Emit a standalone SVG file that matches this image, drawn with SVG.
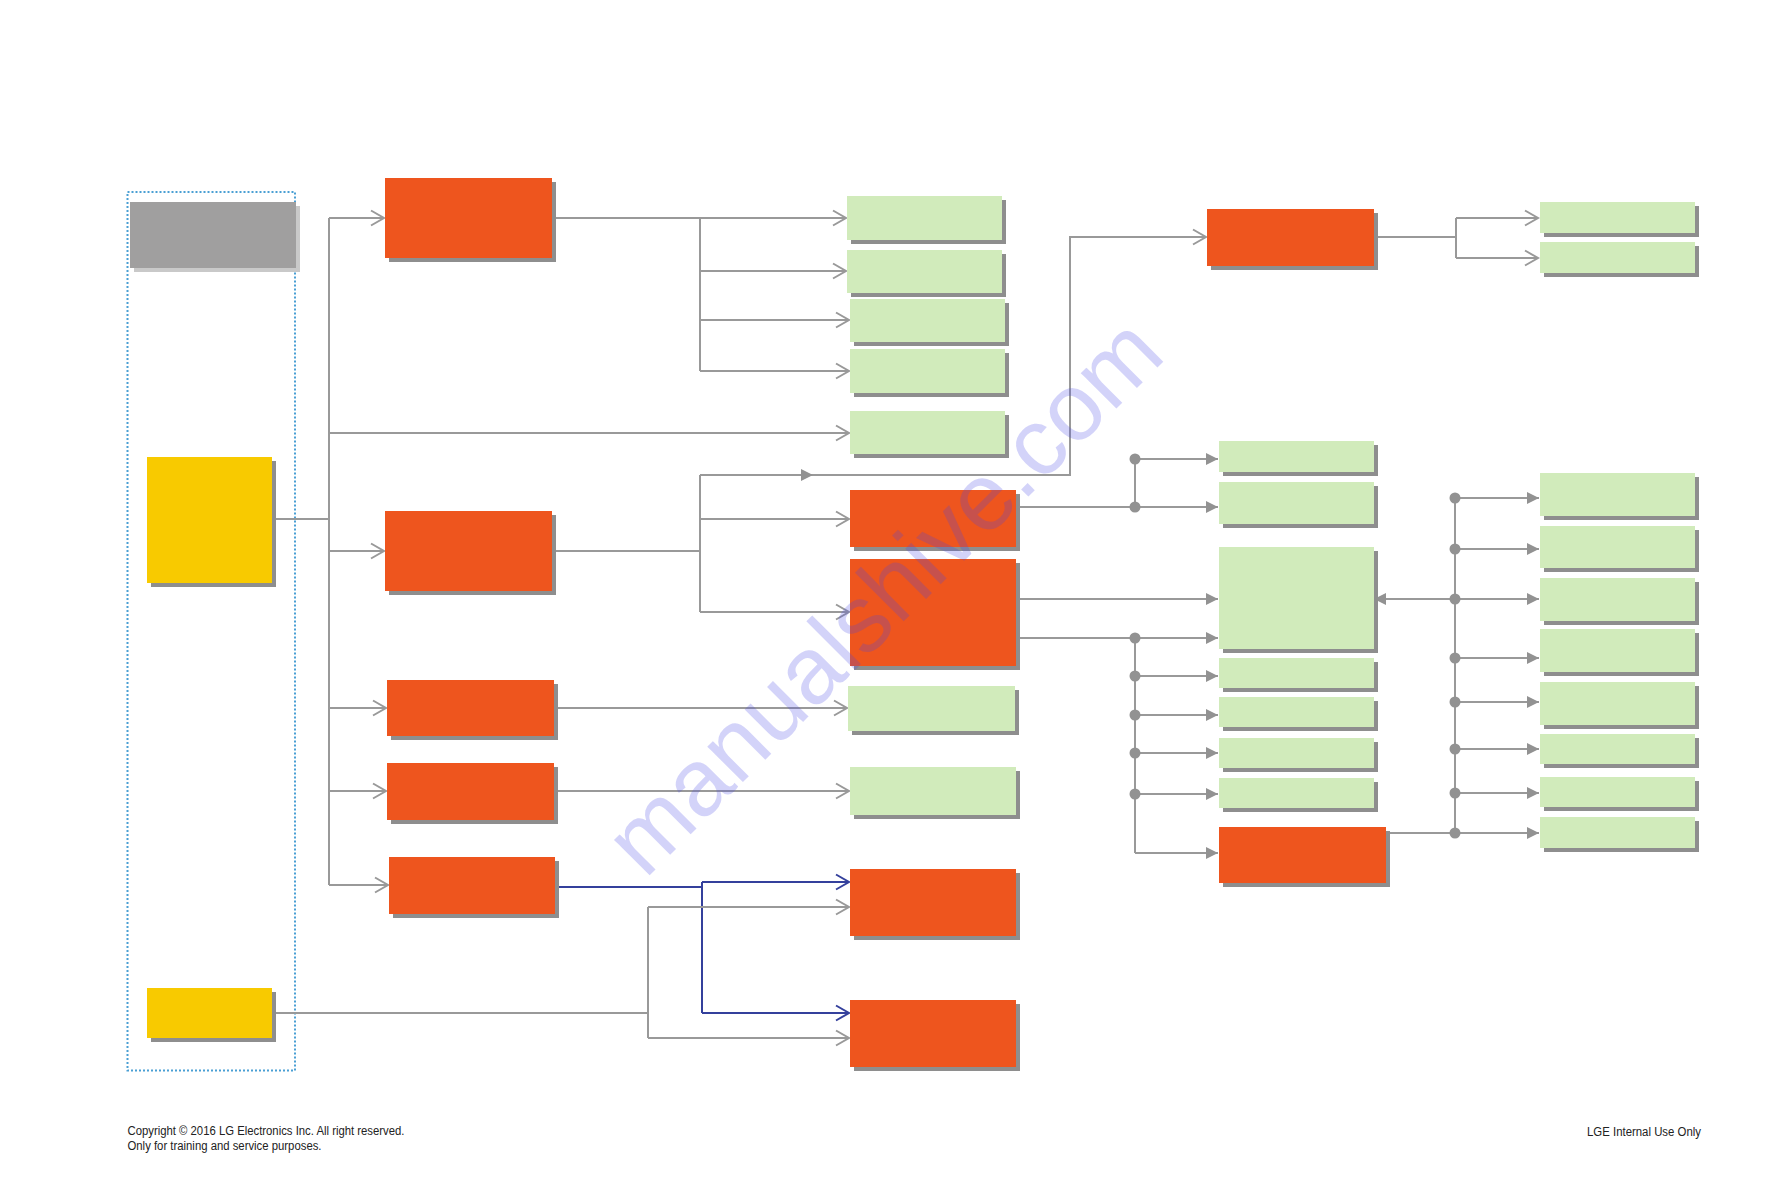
<svg xmlns="http://www.w3.org/2000/svg" width="1765" height="1191" viewBox="0 0 1765 1191">
<style>
.sh{fill:#8e8e8e}
.shl{fill:#c9c9c9}
.or{fill:#ee551e}
.gr{fill:#d1ebbb}
.ye{fill:#f8ca00}
.gy{fill:#a09f9f}
.ln{fill:none;stroke:#999;stroke-width:2}
.bl{fill:none;stroke:#34409c;stroke-width:2}
.dot{fill:#929292}
.ft{font-family:"Liberation Sans",Arial,sans-serif;font-size:12px;fill:#222}
</style>
<defs>
<marker id="chev" markerUnits="userSpaceOnUse" viewBox="0 -9 16 18" refX="14" refY="0" markerWidth="16" markerHeight="18" orient="auto" overflow="visible">
<path d="M1,-7.5 L14,0 L1,7.5" fill="none" stroke="#999" stroke-width="2"/>
</marker>
<marker id="chevb" markerUnits="userSpaceOnUse" viewBox="0 -9 16 18" refX="14" refY="0" markerWidth="16" markerHeight="18" orient="auto" overflow="visible">
<path d="M1,-7.5 L14,0 L1,7.5" fill="none" stroke="#34409c" stroke-width="2"/>
</marker>
<marker id="tri" markerUnits="userSpaceOnUse" viewBox="0 -7 13 14" refX="12" refY="0" markerWidth="13" markerHeight="14" orient="auto" overflow="visible">
<path d="M0,-6 L12,0 L0,6 Z" fill="#929292"/>
</marker>
</defs>
<rect width="1765" height="1191" fill="#fff"/>

<rect id="group-frame" x="127.5" y="192" width="167.5" height="878.5" fill="none" stroke="#4a9fd4" stroke-width="2" stroke-dasharray="2,2"/>

<g id="connectors">
<path class="ln" d="M276,519 H329 M329,218 V885"/>
<path class="ln" marker-end="url(#chev)" d="M329,218 H384"/>
<path class="ln" marker-end="url(#chev)" d="M329,433 H849"/>
<path class="ln" marker-end="url(#chev)" d="M329,551 H384"/>
<path class="ln" marker-end="url(#chev)" d="M329,708 H386"/>
<path class="ln" marker-end="url(#chev)" d="M329,791 H386"/>
<path class="ln" marker-end="url(#chev)" d="M329,885 H388"/>

<path class="ln" d="M556,218 H700 M700,218 V371"/>
<path class="ln" marker-end="url(#chev)" d="M700,218 H846"/>
<path class="ln" marker-end="url(#chev)" d="M700,271 H846"/>
<path class="ln" marker-end="url(#chev)" d="M700,320 H849"/>
<path class="ln" marker-end="url(#chev)" d="M700,371 H849"/>

<path class="ln" d="M556,551 H700 M700,475 V612"/>
<path class="ln" marker-end="url(#tri)" d="M700,475 H813"/>
<path class="ln" marker-end="url(#chev)" d="M813,475 H1070 V237 H1206"/>
<path class="ln" marker-end="url(#chev)" d="M700,519 H849"/>
<path class="ln" marker-end="url(#chev)" d="M700,612 H849"/>

<path class="ln" marker-end="url(#chev)" d="M556,708 H847"/>
<path class="ln" marker-end="url(#chev)" d="M556,791 H849"/>

<path class="ln" d="M1020,507 H1135 M1135,459 V507"/>
<path class="ln" marker-end="url(#tri)" d="M1135,459 H1218"/>
<path class="ln" marker-end="url(#tri)" d="M1135,507 H1218"/>
<path class="ln" marker-end="url(#tri)" d="M1020,599 H1218"/>
<path class="ln" d="M1020,638 H1135 M1135,638 V853"/>
<path class="ln" marker-end="url(#tri)" d="M1135,638 H1218"/>
<path class="ln" marker-end="url(#tri)" d="M1135,676 H1218"/>
<path class="ln" marker-end="url(#tri)" d="M1135,715 H1218"/>
<path class="ln" marker-end="url(#tri)" d="M1135,753 H1218"/>
<path class="ln" marker-end="url(#tri)" d="M1135,794 H1218"/>
<path class="ln" marker-end="url(#tri)" d="M1135,853 H1218"/>

<path class="ln" d="M1378,237 H1456 M1456,218 V258"/>
<path class="ln" marker-end="url(#chev)" d="M1456,218 H1538"/>
<path class="ln" marker-end="url(#chev)" d="M1456,258 H1538"/>

<path class="ln" d="M1390,833 H1455 M1455,498 V833"/>
<path class="ln" marker-end="url(#tri)" d="M1455,599 H1374"/>
<path class="ln" marker-end="url(#tri)" d="M1455,498 H1539"/>
<path class="ln" marker-end="url(#tri)" d="M1455,549 H1539"/>
<path class="ln" marker-end="url(#tri)" d="M1455,599 H1539"/>
<path class="ln" marker-end="url(#tri)" d="M1455,658 H1539"/>
<path class="ln" marker-end="url(#tri)" d="M1455,702 H1539"/>
<path class="ln" marker-end="url(#tri)" d="M1455,749 H1539"/>
<path class="ln" marker-end="url(#tri)" d="M1455,793 H1539"/>
<path class="ln" marker-end="url(#tri)" d="M1455,833 H1539"/>

<path class="bl" d="M555,887 H702 M702,882 V1013"/>
<path class="bl" marker-end="url(#chevb)" d="M702,882 H849"/>
<path class="bl" marker-end="url(#chevb)" d="M702,1013 H849"/>

<path class="ln" d="M276,1013 H648 M648,907 V1038"/>
<path class="ln" marker-end="url(#chev)" d="M648,907 H849"/>
<path class="ln" marker-end="url(#chev)" d="M648,1038 H849"/>

<g class="dot">
<circle cx="1135" cy="459" r="5.5"/><circle cx="1135" cy="507" r="5.5"/>
<circle cx="1135" cy="638" r="5.5"/><circle cx="1135" cy="676" r="5.5"/>
<circle cx="1135" cy="715" r="5.5"/><circle cx="1135" cy="753" r="5.5"/>
<circle cx="1135" cy="794" r="5.5"/>
<circle cx="1455" cy="498" r="5.5"/><circle cx="1455" cy="549" r="5.5"/>
<circle cx="1455" cy="599" r="5.5"/><circle cx="1455" cy="658" r="5.5"/>
<circle cx="1455" cy="702" r="5.5"/><circle cx="1455" cy="749" r="5.5"/>
<circle cx="1455" cy="793" r="5.5"/><circle cx="1455" cy="833" r="5.5"/>
</g>
</g>

<g id="n-gray"><rect class="shl" x="134" y="206" width="166" height="66"/><rect class="gy" x="130" y="202" width="166" height="66"/></g>
<g id="n-yellow1"><rect class="sh" x="151" y="461" width="125" height="126"/><rect class="ye" x="147" y="457" width="125" height="126"/></g>
<g id="n-yellow2"><rect class="sh" x="151" y="992" width="125" height="50"/><rect class="ye" x="147" y="988" width="125" height="50"/></g>

<g id="n-o1"><rect class="sh" x="389" y="182" width="167" height="80"/><rect class="or" x="385" y="178" width="167" height="80"/></g>
<g id="n-o2"><rect class="sh" x="389" y="515" width="167" height="80"/><rect class="or" x="385" y="511" width="167" height="80"/></g>
<g id="n-o3"><rect class="sh" x="391" y="684" width="167" height="56"/><rect class="or" x="387" y="680" width="167" height="56"/></g>
<g id="n-o4"><rect class="sh" x="391" y="767" width="167" height="57"/><rect class="or" x="387" y="763" width="167" height="57"/></g>
<g id="n-o5"><rect class="sh" x="393" y="861" width="166" height="57"/><rect class="or" x="389" y="857" width="166" height="57"/></g>
<g id="n-o6a"><rect class="sh" x="854" y="494" width="166" height="57"/><rect class="or" x="850" y="490" width="166" height="57"/></g>
<g id="n-obig"><rect class="sh" x="854" y="563" width="166" height="107"/><rect class="or" x="850" y="559" width="166" height="107"/></g>
<g id="n-o6"><rect class="sh" x="854" y="873" width="166" height="67"/><rect class="or" x="850" y="869" width="166" height="67"/></g>
<g id="n-o7"><rect class="sh" x="854" y="1004" width="166" height="67"/><rect class="or" x="850" y="1000" width="166" height="67"/></g>
<g id="n-o8"><rect class="sh" x="1211" y="213" width="167" height="57"/><rect class="or" x="1207" y="209" width="167" height="57"/></g>
<g id="n-o9"><rect class="sh" x="1223" y="831" width="167" height="56"/><rect class="or" x="1219" y="827" width="167" height="56"/></g>

<g id="n-g1"><rect class="sh" x="851" y="200" width="155" height="44"/><rect class="gr" x="847" y="196" width="155" height="44"/></g>
<g id="n-g2"><rect class="sh" x="851" y="254" width="155" height="43"/><rect class="gr" x="847" y="250" width="155" height="43"/></g>
<g id="n-g3"><rect class="sh" x="854" y="303" width="155" height="43"/><rect class="gr" x="850" y="299" width="155" height="43"/></g>
<g id="n-g4"><rect class="sh" x="854" y="353" width="155" height="44"/><rect class="gr" x="850" y="349" width="155" height="44"/></g>
<g id="n-g5"><rect class="sh" x="854" y="415" width="155" height="43"/><rect class="gr" x="850" y="411" width="155" height="43"/></g>
<g id="n-gl1"><rect class="sh" x="852" y="690" width="167" height="45"/><rect class="gr" x="848" y="686" width="167" height="45"/></g>
<g id="n-gl2"><rect class="sh" x="854" y="771" width="166" height="48"/><rect class="gr" x="850" y="767" width="166" height="48"/></g>

<g id="n-g6"><rect class="sh" x="1223" y="445" width="155" height="31"/><rect class="gr" x="1219" y="441" width="155" height="31"/></g>
<g id="n-g7"><rect class="sh" x="1223" y="486" width="155" height="42"/><rect class="gr" x="1219" y="482" width="155" height="42"/></g>
<g id="n-g8"><rect class="sh" x="1223" y="551" width="155" height="102"/><rect class="gr" x="1219" y="547" width="155" height="102"/></g>
<g id="n-g9"><rect class="sh" x="1223" y="662" width="155" height="30"/><rect class="gr" x="1219" y="658" width="155" height="30"/></g>
<g id="n-g10"><rect class="sh" x="1223" y="701" width="155" height="30"/><rect class="gr" x="1219" y="697" width="155" height="30"/></g>
<g id="n-g11"><rect class="sh" x="1223" y="742" width="155" height="30"/><rect class="gr" x="1219" y="738" width="155" height="30"/></g>
<g id="n-g12"><rect class="sh" x="1223" y="782" width="155" height="30"/><rect class="gr" x="1219" y="778" width="155" height="30"/></g>

<g id="n-r1"><rect class="sh" x="1544" y="206" width="155" height="31"/><rect class="gr" x="1540" y="202" width="155" height="31"/></g>
<g id="n-r2"><rect class="sh" x="1544" y="246" width="155" height="31"/><rect class="gr" x="1540" y="242" width="155" height="31"/></g>
<g id="n-r3"><rect class="sh" x="1544" y="477" width="155" height="43"/><rect class="gr" x="1540" y="473" width="155" height="43"/></g>
<g id="n-r4"><rect class="sh" x="1544" y="530" width="155" height="42"/><rect class="gr" x="1540" y="526" width="155" height="42"/></g>
<g id="n-r5"><rect class="sh" x="1544" y="582" width="155" height="43"/><rect class="gr" x="1540" y="578" width="155" height="43"/></g>
<g id="n-r6"><rect class="sh" x="1544" y="633" width="155" height="43"/><rect class="gr" x="1540" y="629" width="155" height="43"/></g>
<g id="n-r7"><rect class="sh" x="1544" y="686" width="155" height="43"/><rect class="gr" x="1540" y="682" width="155" height="43"/></g>
<g id="n-r8"><rect class="sh" x="1544" y="738" width="155" height="30"/><rect class="gr" x="1540" y="734" width="155" height="30"/></g>
<g id="n-r9"><rect class="sh" x="1544" y="781" width="155" height="30"/><rect class="gr" x="1540" y="777" width="155" height="30"/></g>
<g id="n-r10"><rect class="sh" x="1544" y="821" width="155" height="31"/><rect class="gr" x="1540" y="817" width="155" height="31"/></g>

<text x="127.5" y="1135" class="ft" textLength="277" lengthAdjust="spacingAndGlyphs">Copyright © 2016 LG Electronics Inc. All right reserved.</text>
<text x="127.5" y="1150" class="ft" textLength="194" lengthAdjust="spacingAndGlyphs">Only for training and service purposes.</text>
<text x="1587" y="1136" class="ft" textLength="114" lengthAdjust="spacingAndGlyphs">LGE Internal Use Only</text>

<text transform="translate(645,880) rotate(-45)" font-family="Liberation Sans, Arial, sans-serif" font-size="95" fill="#4848e8" fill-opacity="0.24">manualshive.com</text>
</svg>
